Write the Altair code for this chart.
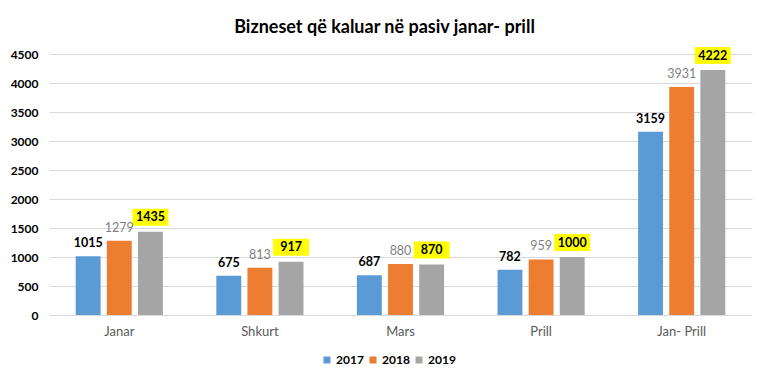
import altair as alt
import pandas as pd

categories = ["Janar", "Shkurt", "Mars", "Prill", "Jan- Prill"]
years = ["2017", "2018", "2019"]
v2017 = [1015, 675, 687, 782, 3159]
v2018 = [1279, 813, 880, 959, 3931]
v2019 = [1435, 917, 870, 1000, 4222]
colors = ["#5B9BD5", "#ED7D31", "#A5A5A5"]
y_ticks = [0, 500, 1000, 1500, 2000, 2500, 3000, 3500, 4000, 4500]

rows = []
for i, c in enumerate(categories):
    for yr, vals in zip(years, [v2017, v2018, v2019]):
        rows.append({"cat": c, "year": yr, "value": vals[i]})
df = pd.DataFrame(rows)

FONT = "Lato"

x = alt.X("cat:N", sort=categories, title=None,
          scale=alt.Scale(paddingInner=0.38, paddingOuter=0.19),
          axis=alt.Axis(labelAngle=0, ticks=False, domain=False, labelFont=FONT,
                        labelFontSize=13, labelColor="#595959", labelPadding=10))
xo = alt.XOffset("year:N", sort=years, scale=alt.Scale(paddingInner=0.2, paddingOuter=0))
y = alt.Y("value:Q", title=None, scale=alt.Scale(domain=[0, 4500], nice=False),
          axis=alt.Axis(values=y_ticks, format="d", ticks=False, domain=False, labelFont=FONT,
                        labelFontSize=12, labelFontWeight="bold", labelColor="#000000",
                        labelPadding=11, gridColor="#D9D9D9", gridWidth=1))

base = alt.Chart(df)

bars = base.mark_bar().encode(
    x=x, xOffset=xo, y=y,
    color=alt.Color("year:N", sort=years, scale=alt.Scale(domain=years, range=colors),
                    legend=alt.Legend(title=None, orient="none", direction="horizontal",
                                      legendX=272, legendY=300, symbolType="square",
                                      symbolSize=49, symbolStrokeWidth=0,
                                      labelFont=FONT, labelFontSize=12,
                                      labelFontWeight="bold", labelColor="#000000",
                                      labelOffset=3, columnPadding=3))
)

box = base.transform_filter(alt.datum.year == "2019").mark_bar(
    color="#FFFF00", width=36, yOffset=-23, y2Offset=-6
).encode(x=x, xOffset=xo, y=y, y2="value:Q")

t2017 = base.transform_filter(alt.datum.year == "2017").mark_text(
    font=FONT, fontSize=12.5, fontWeight="bold", color="#000000", baseline="middle", dy=-13
).encode(x=x, xOffset=xo, y=y, text="value:Q")

t2018 = base.transform_filter(alt.datum.year == "2018").mark_text(
    font=FONT, fontSize=12.5, color="#7F7F7F", baseline="middle", dy=-13
).encode(x=x, xOffset=xo, y=y, text="value:Q")

t2019 = base.transform_filter(alt.datum.year == "2019").mark_text(
    font=FONT, fontSize=12.5, fontWeight="bold", color="#000000", baseline="middle", dy=-14.5
).encode(x=x, xOffset=xo, y=y, text="value:Q")

chart = alt.layer(bars, box, t2017, t2018, t2019).properties(
    width=703, height=261,
    title=alt.Title("Bizneset që kaluar në pasiv janar- prill", font=FONT, fontSize=18,
                    fontWeight="bold", color="#000000", anchor="middle", dx=-16, offset=10),
    autosize=alt.AutoSizeParams(type="none"),
    padding={"left": 41, "top": 46, "right": 8, "bottom": 55},
    background="white",
).configure_view(stroke=None)

chart.save("out.html", embed_options={"renderer": "svg", "actions": False})
